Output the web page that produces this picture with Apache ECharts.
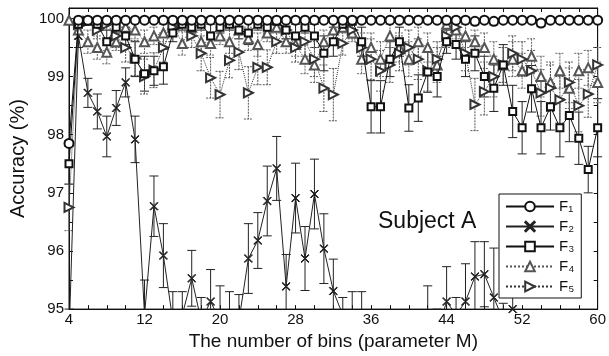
<!DOCTYPE html>
<html>
<head>
<meta charset="utf-8">
<script src="https://cdn.jsdelivr.net/npm/echarts@6/dist/echarts.min.js"></script>
<style>
html, body { margin: 0; padding: 0; background: #fff; }
#main { width: 609px; height: 356px; }
</style>
</head>
<body>
<div id="main"></div>
<script>
// number of bins M
var bins = [4,5,6,7,8,9,10,11,12,13,14,15,16,17,18,19,20,21,22,23,24,25,26,27,28,29,30,31,32,
            33,34,35,36,37,38,39,40,41,42,43,44,45,46,47,48,49,50,51,52,53,54,55,56,57,58,59,60];
var xLabels = [4,12,20,28,36,44,52,60];
var xTicks = [4,6,8,10,12,14,16,18,20,22,24,26,28,30,32,34,36,38,40,42,44,46,48,50,52,54,56,58,60];
var yLabels = [95,96,97,98,99,100];
var yTicks = [95,95.5,96,96.5,97,97.5,98,98.5,99,99.5,100];
var names = ['F\u2081', 'F\u2082', 'F\u2083', 'F\u2084', 'F\u2085'];

// accuracy (%) per feature set
var f1 = [97.85,99.97,99.97,99.97,99.97,99.97,99.97,99.97,99.97,99.97,99.97,99.97,99.97,99.97,99.97,99.97,99.97,99.97,99.97,
          99.97,99.97,99.97,99.97,99.97,99.97,99.97,99.97,99.97,99.97,99.97,99.97,99.97,99.97,99.97,99.97,99.97,99.97,99.97,
          99.97,99.97,99.97,99.97,99.97,99.95,99.97,99.95,99.97,99.97,99.97,99.97,99.92,99.97,99.97,99.97,99.97,99.97,99.97];
var f2 = [94.5,99.7,98.72,98.4,97.97,98.46,98.9,97.92,94.9,96.77,95.92,94.8,94.9,95.53,94.8,95.13,94.8,94.9,94.8,
          95.87,96.18,96.86,97.42,95.39,96.91,95.87,96.98,96.04,95.31,94.9,94.8,94.7,94.3,94.3,94.3,94.3,94.3,94.3,
          94.8,94.6,95.13,94.9,95.13,95.56,95.6,95.2,94.8,95.0,94.3,94.3,94.3,94.3,94.3,94.3,94.3,94.3,94.3];
var f3 = [97.5,99.9,99.95,99.9,99.6,99.85,99.7,99.3,99.05,99.1,99.17,99.75,99.9,99.85,99.9,99.7,99.85,99.9,99.8,
          99.75,99.9,99.85,99.95,99.8,99.7,99.85,99.7,99.4,99.6,99.9,99.95,99.6,98.48,98.48,99.3,99.6,98.46,98.63,
          99.08,99.0,99.6,99.55,99.3,99.4,99.0,98.8,99.2,98.4,98.12,98.79,98.12,98.48,98.12,98.33,97.94,97.4,98.12];
var f4 = [99.97,99.8,99.6,99.5,99.42,99.6,99.85,99.8,99.6,99.7,99.75,99.9,99.57,99.85,99.6,99.57,99.7,99.6,99.8,
          99.65,99.55,99.75,99.85,99.6,99.55,99.3,99.2,99.6,99.8,99.85,99.75,99.3,99.5,99.3,99.7,99.5,99.3,99.6,
          99.5,99.2,99.9,99.8,99.7,99.6,99.5,99.3,99.2,99.3,99.1,99.35,99.0,98.9,99.1,98.8,99.1,99.15,98.9];
var f5 = [96.75,99.9,99.95,99.8,99.9,99.7,99.5,99.32,99.0,99.11,99.5,99.85,99.9,99.7,99.4,98.98,98.69,99.28,99.42,
          98.72,99.16,99.16,99.6,99.8,99.5,99.6,99.3,98.8,98.69,99.57,99.8,99.5,99.3,99.1,99.2,99.4,99.5,99.3,
          99.1,99.3,99.7,99.85,99.4,98.52,98.74,99.0,99.2,99.4,99.3,99.1,98.72,98.8,98.6,98.9,98.5,98.7,99.2];

// standard deviations
var e1 = [0.05,0,0,0,0,0,0,0,0,0,0,0,0,0,0,0,0,0,0,
          0,0,0,0,0,0,0,0,0,0,0,0,0,0,0,0,0,0,0,
          0,0,0,0,0,0.06,0,0.06,0,0,0,0,0.06,0,0,0,0,0,0];
var e2 = [0.5,0.2,0.25,0.3,0.35,0.3,0.25,0.4,0.6,0.52,0.55,0.5,0.4,0.48,0.4,0.55,0.6,0.4,0.45,
          0.6,0.48,0.6,0.55,0.55,0.6,0.55,0.6,0.6,0.55,0.3,0.5,0.6,0.5,0.5,0.4,0.4,0.5,0.5,
          0.6,0.4,0.6,0.3,0.65,0.6,0.56,0.85,0.3,0.5,0.4,0.4,0.4,0.4,0.4,0.4,0.4,0.4,0.4];
var e3 = [0.35,0.05,0.05,0.1,0.2,0.1,0.15,0.3,0.3,0.25,0.3,0.15,0.1,0.1,0.1,0.2,0.1,0.1,0.15,
          0.2,0.1,0.1,0.05,0.15,0.2,0.1,0.2,0.3,0.25,0.1,0.05,0.25,0.45,0.45,0.3,0.25,0.4,0.4,
          0.35,0.35,0.2,0.25,0.3,0.3,0.35,0.4,0.35,0.45,0.45,0.4,0.45,0.4,0.5,0.45,0.45,0.4,0.5];
var e4 = [0.05,0.15,0.2,0.2,0.2,0.15,0.1,0.15,0.2,0.15,0.15,0.1,0.2,0.1,0.2,0.2,0.15,0.2,0.15,
          0.2,0.2,0.15,0.1,0.2,0.2,0.25,0.3,0.2,0.15,0.1,0.15,0.25,0.25,0.3,0.2,0.25,0.3,0.25,
          0.25,0.3,0.1,0.15,0.2,0.2,0.25,0.3,0.3,0.3,0.3,0.3,0.35,0.35,0.3,0.35,0.3,0.3,0.35];
var e5 = [0.4,0.1,0.05,0.15,0.1,0.2,0.25,0.3,0.3,0.3,0.25,0.1,0.1,0.2,0.3,0.35,0.4,0.3,0.3,
          0.45,0.3,0.3,0.2,0.15,0.25,0.25,0.3,0.4,0.45,0.2,0.15,0.25,0.35,0.35,0.3,0.3,0.3,0.35,
          0.35,0.3,0.2,0.1,0.3,0.45,0.4,0.35,0.3,0.3,0.3,0.35,0.4,0.4,0.4,0.35,0.45,0.4,0.3];

var Y_MIN = 95, Y_MAX = 100.18;
var FONT = '"Liberation Sans", "DejaVu Sans"';

function pairs(vals) {
    return bins.map(function (m, i) { return [m, vals[i]]; });
}
function bars(vals, errs) {
    return bins.map(function (m, i) { return [m, vals[i] - errs[i], vals[i] + errs[i]]; });
}

// vertical error bar with caps, cut at the plot limits
function errRender(color, dash) {
    return function (params, api) {
        var x = api.value(0), lo = api.value(1), hi = api.value(2);
        if (hi <= lo) return;
        if (hi < Y_MIN || lo > 100) return;
        var capHi = hi <= 100, capLo = lo >= Y_MIN;
        hi = Math.min(hi, 100);
        lo = Math.max(lo, Y_MIN);
        var p1 = api.coord([x, hi]), p2 = api.coord([x, lo]);
        var st = { stroke: color, lineWidth: 1, lineDash: dash };
        var kids = [{ type: 'line', shape: { x1: p1[0], y1: p1[1], x2: p2[0], y2: p2[1] }, style: st }];
        var w = 4.5;
        if (capHi) kids.push({ type: 'line', shape: { x1: p1[0] - w, y1: p1[1], x2: p1[0] + w, y2: p1[1] }, style: st });
        if (capLo) kids.push({ type: 'line', shape: { x1: p2[0] - w, y1: p2[1], x2: p2[0] + w, y2: p2[1] }, style: st });
        return { type: 'group', children: kids };
    };
}

var crossPath = 'path://M0,0.7L0.7,0L5,4.3L9.3,0L10,0.7L5.7,5L10,9.3L9.3,10L5,5.7L0.7,10L0,9.3L4.3,5Z';

function lineSeries(name, vals, symbol, size, color, type, z, rot) {
    return {
        name: name, type: 'line', data: pairs(vals), z: z,
        symbol: symbol, symbolSize: size, symbolRotate: rot || 0, showAllSymbol: true,
        lineStyle: { color: color, width: 1, type: type },
        itemStyle: { color: color, borderColor: color, borderWidth: 1 },
        clip: true, silent: true
    };
}
function errSeries(vals, errs, color, dash, z) {
    return {
        type: 'custom', data: bars(vals, errs), z: z, silent: true,
        renderItem: errRender(color, dash)
    };
}

var chart = echarts.init(document.getElementById('main'));
chart.setOption({
    animation: false,
    backgroundColor: '#fff',
    grid: { left: 67, right: 6, top: 8, bottom: 45, show: true, borderColor: '#111', borderWidth: 1 },
    xAxis: [{
        type: 'value', min: 4, max: 60,
        name: 'The number of bins (parameter M)', nameLocation: 'middle', nameGap: 19,
        nameTextStyle: { fontFamily: FONT, fontSize: 19, color: '#111' },
        axisLine: { lineStyle: { color: '#111' } },
        axisTick: { inside: true, length: 4, customValues: xTicks, lineStyle: { color: '#111' } },
        axisLabel: { customValues: xLabels, fontFamily: FONT, fontSize: 15, color: '#111', margin: 3 },
        splitLine: { show: false }
    }, {
        type: 'value', min: 4, max: 60, position: 'top',
        axisLine: { lineStyle: { color: '#111' } },
        axisTick: { inside: true, length: 4, customValues: xTicks, lineStyle: { color: '#111' } },
        axisLabel: { show: false }, splitLine: { show: false }
    }],
    yAxis: [{
        type: 'value', min: Y_MIN, max: Y_MAX,
        name: 'Accuracy (%)', nameLocation: 'middle', nameGap: 41, nameRotate: 90,
        nameTextStyle: { fontFamily: FONT, fontSize: 20, color: '#111' },
        axisLine: { lineStyle: { color: '#111' } },
        axisTick: { inside: true, length: 4, customValues: yTicks, lineStyle: { color: '#111' } },
        axisLabel: { customValues: yLabels, fontFamily: FONT, fontSize: 15, color: '#111', margin: 5 },
        splitLine: { show: false }
    }, {
        type: 'value', min: Y_MIN, max: Y_MAX, position: 'right',
        axisLine: { lineStyle: { color: '#111' } },
        axisTick: { inside: true, length: 4, customValues: yTicks, lineStyle: { color: '#111' } },
        axisLabel: { show: false }, splitLine: { show: false }
    }],
    legend: {
        orient: 'vertical', left: 499, top: 194,
        padding: [5, 7, 4, 6],
        itemWidth: 48, itemHeight: 12, itemGap: 5,
        backgroundColor: '#fff', borderColor: '#111', borderWidth: 1,
        data: names,
        textStyle: { color: '#111', fontFamily: FONT, fontSize: 15 }
    },
    graphic: [{
        type: 'text', left: 378, top: 210,
        style: { text: 'Subject A', font: '23px "Liberation Sans"', fill: '#111' }
    }],
    series: [
        errSeries(f2, e2, '#222', null, 2),
        errSeries(f3, e3, '#222', null, 2),
        errSeries(f4, e4, '#666', [2, 1], 2),
        errSeries(f5, e5, '#555', [2, 1], 2),
        errSeries(f1, e1, '#222', null, 2),
        lineSeries(names[1], f2, crossPath, 8, '#222', 'solid', 3),
        lineSeries(names[3], f4, 'emptyTriangle', 9, '#555', 'dotted', 4),
        lineSeries(names[4], f5, 'emptyTriangle', 9, '#333', 'dotted', 4, -90),
        lineSeries(names[2], f3, 'emptyRect', 7, '#111', 'solid', 5),
        lineSeries(names[0], f1, 'emptyCircle', 9, '#111', 'solid', 6)
    ]
});
</script>
</body>
</html>
